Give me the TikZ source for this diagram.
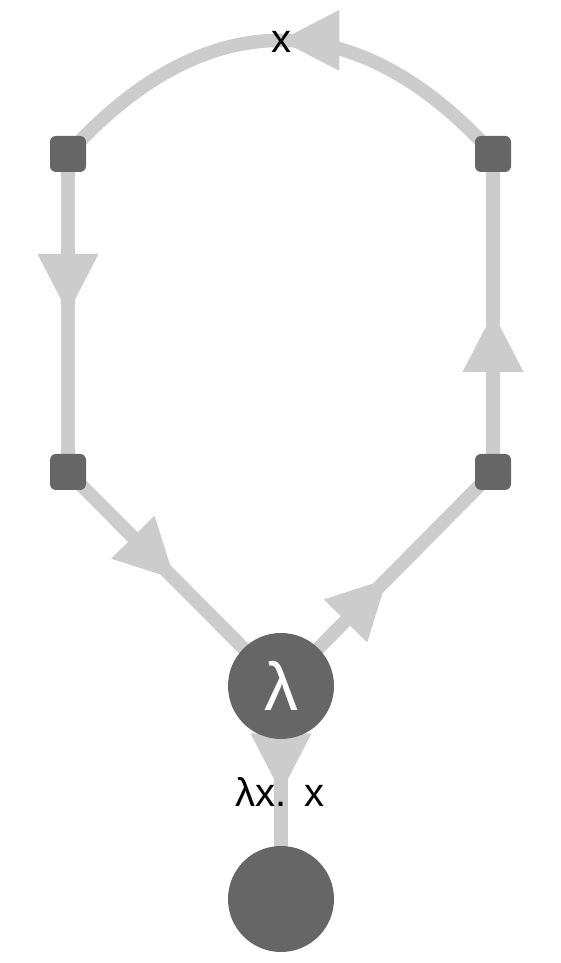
\documentclass[tikz,border=0pt]{standalone}
\usepackage{fontspec}
\setmainfont{Liberation Sans}
\usepackage{tikz}
\usetikzlibrary{decorations.markings,backgrounds}
\definecolor{nodegray}{HTML}{666666}
\definecolor{edgegray}{HTML}{CCCCCC}

\begin{document}
\begin{tikzpicture}[x=1pt,y=1pt,
	port/.style={fill=nodegray,rounded corners=6pt,minimum size=36pt,inner sep=0pt},
	term/.style={circle,fill=nodegray,minimum size=106pt,inner sep=0pt,text=white,font=\fontsize{68}{80}\selectfont},
	lbl/.style={anchor=base,font=\fontsize{40}{48}\selectfont},
	edge/.style={draw=edgegray,line width=13.5pt},
	midarrow/.style={postaction={decorate},decoration={markings,
		mark=at position 0.5 with {\fill[edgegray] (0pt,0pt) -- (-59pt,30.5pt) -- (-59pt,-30.5pt) -- cycle;}}}]
	\useasboundingbox (0,0) rectangle (561,963);
	\node[port] (tl) at (68,809) {};
	\node[port] (tr) at (493,809) {};
	\node[port] (bl) at (68,491) {};
	\node[port] (br) at (493,491) {};
	\node[term] (lam) at (281,277) {λ};
	\node[term] (bot) at (281,64) {};
	\begin{scope}[on background layer]
		\draw[edge,midarrow] (tr.center) to[out=132,in=48,looseness=1.23] (tl.center);
		\draw[edge,midarrow] (tl.center) -- (bl.center);
		\draw[edge,midarrow] (bl.center) -- (lam.center);
		\draw[edge,midarrow] (lam.center) -- (br.center);
		\draw[edge,midarrow] (br.center) -- (tr.center);
		\draw[edge,midarrow] (lam.center) -- (bot.center);
	\end{scope}
	\node[lbl] (var) at (281,910) {x};
	\node[lbl] (body) at (280,156) {λx.\hspace{4pt} x};
\end{tikzpicture}
\end{document}
